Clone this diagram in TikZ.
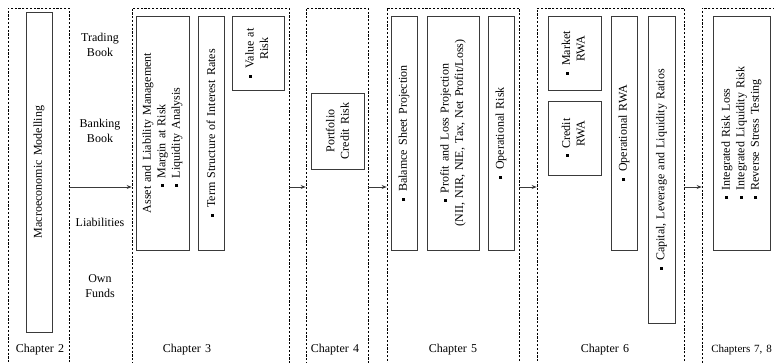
\documentclass[tikz,border=0pt]{standalone}
\usepackage{fontspec}
\setmainfont{Liberation Serif}[WordSpace=1.4]
\usetikzlibrary{arrows.meta}
\newcommand{\sqb}{\raisebox{1.5pt}{\rule{3pt}{3pt}}\hspace{6pt}}
\definecolor{boxline}{HTML}{3A3A3A}
\begin{document}
\begin{tikzpicture}[x=1pt,y=1pt,
  font=\fontsize{12pt}{14.5pt}\selectfont,
  chap/.style={draw=black, line width=0.6pt, dash pattern=on 2.2pt off 1.6pt, minimum height=358pt, inner sep=0pt},
  inbox/.style={draw=boxline, line width=0.9pt, rotate=90, inner sep=1pt},
  conn/.style={-{Stealth[length=5pt,width=4pt]}, draw=boxline, line width=0.8pt},
  lab/.style={align=center, inner sep=0pt}]
\useasboundingbox (0,0) rectangle (774,-363);
% chapter frames
\node[chap, minimum width=61pt]  (ch2)  at (38.5,-187) {};
\node[chap, minimum width=157pt] (ch3)  at (210.5,-187) {};
\node[chap, minimum width=62pt]  (ch4)  at (337,-187) {};
\node[chap, minimum width=132pt] (ch5)  at (453,-187) {};
\node[chap, minimum width=147pt] (ch6)  at (610.5,-187) {};
\node[chap, minimum width=76pt]  (ch78) at (740,-187) {};
% chapter labels
\node[lab] (l2)  at (40,-350)  {Chapter 2};
\node[lab] (l3)  at (187,-350) {Chapter 3};
\node[lab] (l4)  at (335,-350) {Chapter 4};
\node[lab] (l5)  at (453,-350) {Chapter 5};
\node[lab] (l6)  at (605,-350) {Chapter 6};
\node[lab, anchor=east, font=\fontsize{11pt}{13pt}\selectfont] (l78) at (772,-350) {Chapters 7, 8};
% side labels
\node[lab] (tb) at (100,-45)  {Trading\\Book};
\node[lab] (bb) at (100,-131) {Banking\\Book};
\node[lab] (li) at (100,-222) {Liabilities};
\node[lab] (of) at (100,-286) {Own\\Funds};
% inner boxes
\node[inbox, minimum width=320pt, minimum height=26pt] (macro) at (39,-172) {Macroeconomic Modelling};
\node[inbox, minimum width=234pt, minimum height=53pt, align=left] (alm) at (162.5,-133)
  {Asset and Liability Management\\ \hspace*{26pt}\sqb Margin at Risk\\ \hspace*{26pt}\sqb Liquidity Analysis};
\node[inbox, minimum width=234pt, minimum height=26pt] (term) at (211,-133) {\sqb Term Structure of Interest Rates};
\node[inbox, minimum width=74pt, minimum height=52pt] (var) at (258,-53)
  {\sqb\begin{tabular}[t]{@{}c@{}}Value at\\Risk\end{tabular}};
\node[inbox, minimum width=76pt, minimum height=53pt, align=center] (pcr) at (337.5,-131) {Portfolio\\Credit Risk};
\node[inbox, minimum width=234pt, minimum height=26pt] (bsp) at (404,-133) {\sqb Balamce Sheet Projection};
\node[inbox, minimum width=234pt, minimum height=52pt, align=center] (pl) at (453,-133)
  {\sqb Profit and Loss Projection\\(NII, NIR, NIE, Tax, Net Profit/Loss)};
\node[inbox, minimum width=234pt, minimum height=26pt] (opr) at (501,-133) {\sqb Operational Risk};
\node[inbox, minimum width=74pt, minimum height=53pt] (mkt) at (574.5,-53)
  {\sqb\begin{tabular}[t]{@{}c@{}}Market\\RWA\end{tabular}};
\node[inbox, minimum width=74pt, minimum height=53pt] (crwa) at (574.5,-138)
  {\sqb\begin{tabular}[t]{@{}c@{}}Credit\\RWA\end{tabular}};
\node[inbox, minimum width=234pt, minimum height=26pt] (orwa) at (624,-133) {\sqb Operational RWA};
\node[inbox, minimum width=307pt, minimum height=27pt] (cap) at (661.5,-169.5) {\sqb Capital, Leverage and Liquidity Ratios};
\node[inbox, minimum width=234pt, minimum height=57pt, align=left] (int) at (741.5,-133)
  {\sqb Integrated Risk Loss\\ \sqb Integrated Liquidity Risk\\ \sqb Reverse Stress Testing};
% connectors
\draw[conn] (ch2.east) -- (ch3.west);
\draw[conn] (ch3.east) -- (ch4.west);
\draw[conn] (ch4.east) -- (ch5.west);
\draw[conn] (ch5.east) -- (ch6.west);
\draw[conn] (ch6.east) -- (ch78.west);
\end{tikzpicture}
\end{document}
